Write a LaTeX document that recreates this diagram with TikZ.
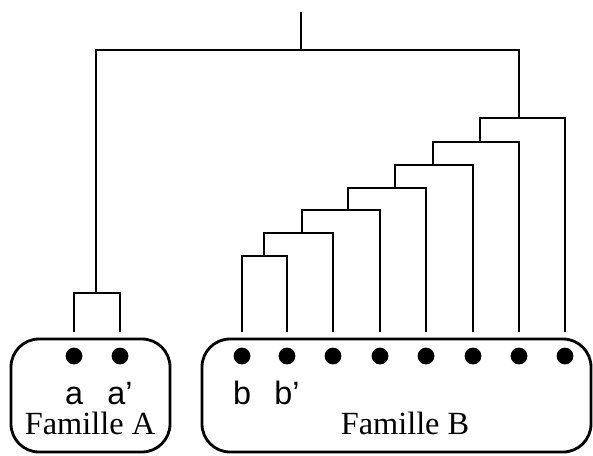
\documentclass[tikz,border=0pt]{standalone}
\usepackage{fontspec}
\setmainfont{Liberation Serif}
\setsansfont{Liberation Sans}
\usepackage{tikz}

\begin{document}
\begin{tikzpicture}[
    x=0.025cm, y=-0.025cm,
    branch/.style={line width=2pt},
    leaf/.style={circle, fill, inner sep=0pt, minimum size=0.42cm, outer sep=0.39cm},
    famille/.style={line width=2pt, rounded corners=0.7cm},
    leafname/.style={font=\sffamily\fontsize{23}{26}\selectfont, anchor=base},
    famname/.style={font=\fontsize{23}{26}\selectfont, anchor=base}
]
\useasboundingbox (0,0) rectangle (593,455);

% Families
\draw[famille] (11,339) rectangle (170,452);
\draw[famille] (202,339) rectangle (591,452);
\node[famname] (famA) at (90,434) {Famille A};
\node[famname] (famB) at (405,434) {Famille B};

% Leaves
\node[leaf] (a1) at (74,356) {};
\node[leaf] (a2) at (120,356) {};
\node[leaf] (b1) at (242,356) {};
\node[leaf] (b2) at (287,356) {};
\node[leaf] (b3) at (333,356) {};
\node[leaf] (b4) at (380,356) {};
\node[leaf] (b5) at (426,356) {};
\node[leaf] (b6) at (473,356) {};
\node[leaf] (b7) at (519,356) {};
\node[leaf] (b8) at (565,356) {};

\node[leafname] (na1) at (74,404) {a};
\node[leafname] (na2) at (120,404) {a'};
\node[leafname] (nb1) at (242,404) {b};
\node[leafname] (nb2) at (287,404) {b'};

% Joins
\coordinate (top) at (301,12);
\coordinate (root) at (301,50);
\coordinate (jA) at (96,293);
\coordinate (jB1) at (264,256);
\coordinate (jB2) at (302,233);
\coordinate (jB3) at (348,210);
\coordinate (jB4) at (395,188);
\coordinate (jB5) at (433,165);
\coordinate (jB6) at (480,142);
\coordinate (jB7) at (519,118);

% Tree
\draw[branch] (a1) |- (jA) -| (a2);
\draw[branch] (b1) |- (jB1) -| (b2);
\draw[branch] (jB1) |- (jB2) -| (b3);
\draw[branch] (jB2) |- (jB3) -| (b4);
\draw[branch] (jB3) |- (jB4) -| (b5);
\draw[branch] (jB4) |- (jB5) -| (b6);
\draw[branch] (jB5) |- (jB6) -| (b7);
\draw[branch] (jB6) |- (jB7) -| (b8);
\draw[branch] (jA) |- (root) -| (jB7);
\draw[branch] (root) -- (top);

\end{tikzpicture}
\end{document}
